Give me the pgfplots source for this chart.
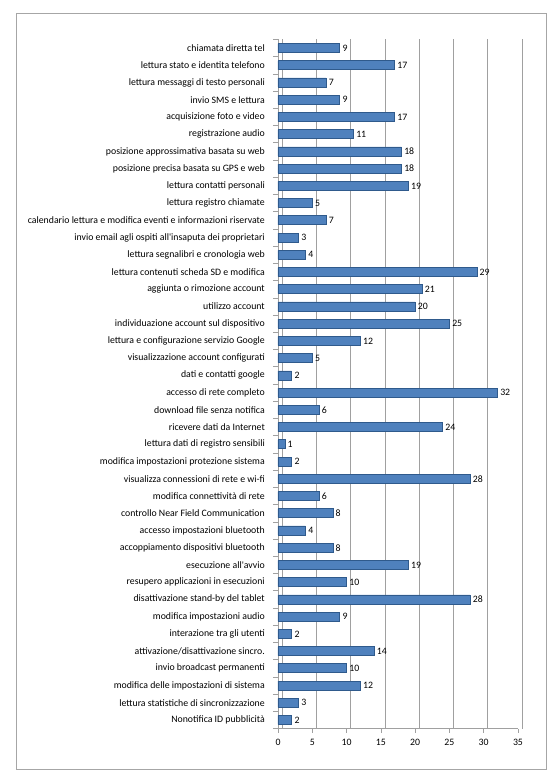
\documentclass[border=0pt]{standalone}
\usepackage{fontspec}
\setmainfont{Carlito}
\usepackage{pgfplots}
\usepackage{pgfplotstable}
\pgfplotsset{compat=1.18}
\definecolor{barblue}{HTML}{4F81BD}
\definecolor{bardark}{HTML}{2F5A8C}
\definecolor{gridgray}{HTML}{A0A0A0}
\pgfplotstableread{
idx val
1 9
2 17
3 7
4 9
5 17
6 11
7 18
8 18
9 19
10 5
11 7
12 3
13 4
14 29
15 21
16 20
17 25
18 12
19 5
20 2
21 32
22 6
23 24
24 1
25 2
26 28
27 6
28 8
29 4
30 8
31 19
32 10
33 28
34 9
35 2
36 14
37 10
38 12
39 3
40 2
}\datatable
\begin{document}
\begin{tikzpicture}
\path[use as bounding box] (0,0) rectangle (559pt,777pt);
\draw[gray!70, line width=0.8pt] (16pt,8pt) rectangle (546pt,764pt);
\begin{axis}[
  at={(278pt,48.4pt)}, anchor=south west,
  scale only axis, width=240pt, height=689.2pt,
  xmin=0, xmax=35, ymin=0.5, ymax=40.5, y dir=reverse,
  xbar, bar width=9pt,
  xtick={0,5,...,35},
  xmajorgrids, grid style={gridgray, line width=0.6pt, xshift=4pt},
  axis x line*=bottom, axis y line*=left,
  axis line style={gridgray, line width=0.6pt},
  tick style={gridgray, line width=0.6pt},
  tick align=outside,
  major tick length=4pt,
  ytick={1,...,40},
  major y tick style={draw=none},
  minor ytick={0.5,1.5,...,40.5},
  minor tick length=5pt,
  yticklabels={
    {chiamata diretta tel},
    {lettura stato e identita telefono},
    {lettura messaggi di testo personali},
    {invio SMS e lettura},
    {acquisizione foto e video},
    {registrazione audio},
    {posizione approssimativa basata su web},
    {posizione precisa basata su GPS e web},
    {lettura contatti personali},
    {lettura registro chiamate},
    {calendario lettura e modifica eventi e informazioni riservate},
    {invio email agli ospiti all\textquotesingle insaputa dei proprietari},
    {lettura segnalibri e cronologia web},
    {lettura contenuti scheda SD e modifica},
    {aggiunta o rimozione account},
    {utilizzo account},
    {individuazione account sul dispositivo},
    {lettura e configurazione servizio Google},
    {visualizzazione account configurati},
    {dati e contatti google},
    {accesso di rete completo},
    {download file senza notifica},
    {ricevere dati da Internet},
    {lettura dati di registro sensibili},
    {modifica impostazioni protezione sistema},
    {visualizza connessioni di rete e wi-fi},
    {modifica connettività di rete},
    {controllo Near Field Communication},
    {accesso impostazioni bluetooth},
    {accoppiamento dispositivi bluetooth},
    {esecuzione all\textquotesingle avvio},
    {resupero applicazioni in esecuzioni},
    {disattivazione stand-by del tablet},
    {modifica impostazioni audio},
    {interazione tra gli utenti},
    {attivazione/disattivazione sincro.},
    {invio broadcast permanenti},
    {modifica delle impostazioni di sistema},
    {lettura statistiche di sincronizzazione},
    {Nonotifica ID pubblicità}
  },
  yticklabel style={font=\fontsize{9.8}{11}\selectfont, text=black, anchor=east, inner sep=0pt, xshift=-9pt},
  xticklabel style={font=\fontsize{9.8}{11}\selectfont, text=black, yshift=-3pt},
  /pgf/number format/assume math mode=true,
  nodes near coords,
  nodes near coords style={font=\fontsize{9.8}{11}\selectfont, text=black, anchor=west, inner sep=2.5pt},
]
\addplot[fill=barblue, draw=bardark, line width=0.7pt] table[x=val, y=idx] {\datatable};
\end{axis}
\end{tikzpicture}
\end{document}
